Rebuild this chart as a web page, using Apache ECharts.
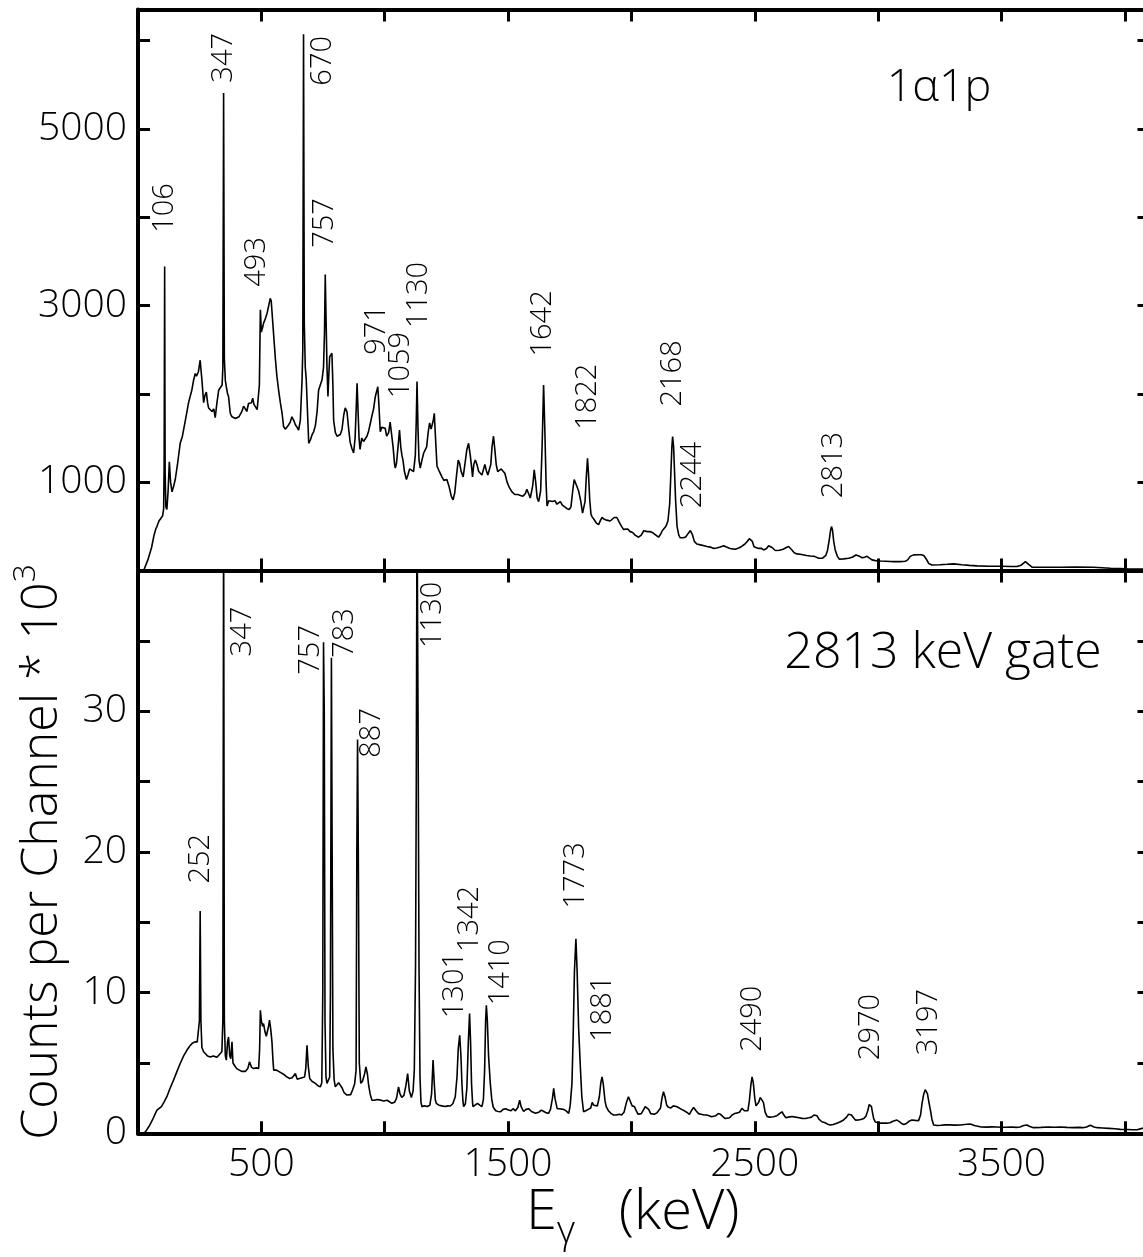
<!DOCTYPE html>
<html>
<head>
<meta charset="utf-8">
<title>Gamma-ray spectra: 1α1p and 2813 keV gate</title>
<script src="https://cdn.jsdelivr.net/npm/echarts@6/dist/echarts.min.js"></script>
<style>
  html, body { margin: 0; padding: 0; background: #fff; }
  #chart { width: 1143px; height: 1257px; }
</style>
</head>
<body>
<div id="chart"></div>
<script>
// ---- Spectrum data: [E_gamma (keV), counts per channel] ----
// Upper panel: 1α1p channel (counts)
const alphaPSpectrum = [
  [23,0],[40,120],[55,260],[65,400],[72,470],[77,500],[85,560],[92,580],[100,620],[104,700],
  [106,1200],[108,3440],[110,1100],[113,720],[117,690],[122,900],[127,1230],[132,1000],[138,890],[145,960],
  [151,1030],[160,1200],[171,1440],[180,1520],[192,1700],[205,1900],[218,2040],[225,2150],[232,2230],[237,2200],
  [245,2250],[252,2380],[256,2250],[259,2160],[266,1900],[271,1980],[277,2020],[282,1900],[286,1840],[293,1820],
  [300,1800],[307,1830],[313,1730],[320,1900],[327,2040],[333,2020],[341,2100],[344,2300],[347,5405],[350,2400],
  [354,2150],[358,2080],[363,2000],[367,1970],[374,1780],[381,1740],[388,1740],[395,1720],[402,1730],[409,1740],
  [415,1750],[421,1800],[428,1860],[435,1830],[441,1800],[448,1890],[455,1870],[460,1900],[465,1950],[470,1880],
  [476,1860],[483,1820],[489,1800],[492,2100],[496,2950],[500,2700],[505,2750],[509,2800],[516,2850],[523,2910],
  [530,3000],[536,3080],[540,3050],[543,3030],[549,2700],[557,2390],[563,2200],[570,2040],[577,1900],[584,1780],
  [590,1630],[597,1600],[604,1590],[611,1650],[617,1680],[624,1740],[631,1700],[638,1650],[645,1620],[651,1590],
  [658,1700],[665,2160],[668,2500],[671,6070],[674,2800],[678,2300],[682,2160],[687,1800],[692,1440],[699,1480],
  [706,1540],[712,1570],[719,1640],[726,1800],[732,2040],[739,2100],[746,2160],[752,2300],[756,2700],[759,3350],
  [762,2900],[766,2300],[770,1970],[774,2250],[777,2420],[782,2440],[786,2460],[790,2100],[793,1700],[800,1560],
  [807,1520],[814,1530],[820,1540],[827,1600],[834,1760],[840,1840],[847,1800],[854,1600],[860,1450],[867,1380],
  [874,1330],[880,1500],[884,1800],[888,2120],[892,1800],[896,1500],[900,1370],[907,1500],[914,1460],[921,1440],
  [928,1520],[935,1580],[942,1670],[949,1760],[955,1830],[962,1970],[967,1950],[972,2080],[976,1900],[982,1570],
  [988,1620],[995,1630],[1002,1610],[1008,1520],[1016,1560],[1022,1680],[1027,1660],[1034,1400],[1040,1200],[1043,1160],
  [1048,1220],[1054,1400],[1060,1590],[1065,1400],[1070,1300],[1074,1250],[1080,1120],[1088,1030],[1094,1080],[1101,1150],
  [1108,1130],[1117,1120],[1124,1300],[1128,1700],[1131,2140],[1135,1600],[1139,1250],[1144,1160],[1151,1250],[1158,1330],
  [1165,1350],[1170,1400],[1176,1560],[1182,1670],[1188,1600],[1192,1580],[1197,1700],[1201,1780],[1206,1500],[1212,1180],
  [1220,1130],[1232,1060],[1240,1020],[1247,1000],[1252,1030],[1260,960],[1270,840],[1277,800],[1284,880],[1292,1100],
  [1298,1250],[1303,1220],[1310,1120],[1318,1060],[1325,1200],[1333,1370],[1340,1440],[1347,1300],[1353,1150],[1356,1060],
  [1361,1200],[1367,1250],[1374,1200],[1381,1120],[1388,1100],[1394,1080],[1401,1150],[1406,1200],[1412,1130],[1418,1080],
  [1425,1060],[1430,1200],[1435,1400],[1441,1520],[1446,1380],[1452,1200],[1458,1120],[1465,1130],[1472,1150],[1480,1170],
  [1487,1100],[1496,1000],[1505,940],[1516,890],[1527,860],[1540,860],[1550,850],[1560,840],[1570,870],[1576,920],
  [1582,880],[1590,820],[1595,810],[1600,960],[1606,1140],[1612,1000],[1618,820],[1624,780],[1632,900],[1638,1400],
  [1644,2100],[1649,1600],[1654,1000],[1658,730],[1665,790],[1672,770],[1680,780],[1690,790],[1698,750],[1705,760],
  [1712,780],[1720,740],[1730,720],[1739,700],[1748,690],[1755,720],[1762,900],[1768,1030],[1772,1040],[1778,960],
  [1786,900],[1795,780],[1802,650],[1806,630],[1812,780],[1817,1050],[1822,1270],[1826,1100],[1831,800],[1836,640],
  [1840,610],[1848,580],[1857,540],[1867,520],[1875,570],[1881,600],[1890,580],[1900,570],[1908,550],[1914,560],
  [1922,580],[1930,600],[1936,611],[1941,600],[1950,550],[1960,500],[1968,465],[1975,460],[1985,470],[1995,440],
  [2005,430],[2015,400],[2022,380],[2029,377],[2040,400],[2050,450],[2056,460],[2065,440],[2075,440],[2085,430],
  [2095,410],[2102,390],[2110,377],[2118,410],[2125,450],[2132,470],[2140,500],[2148,560],[2155,750],[2160,1100],
  [2164,1400],[2167,1516],[2171,1400],[2175,1100],[2179,800],[2185,500],[2192,400],[2198,370],[2210,370],[2220,380],
  [2230,420],[2239,452],[2248,400],[2255,330],[2265,300],[2280,290],[2295,280],[2306,271],[2320,265],[2333,250],
  [2345,255],[2360,265],[2374,279],[2385,265],[2400,250],[2410,245],[2421,241],[2435,255],[2448,275],[2460,300],
  [2470,330],[2478,360],[2484,366],[2490,330],[2497,270],[2502,252],[2515,250],[2526,252],[2536,233],[2548,250],
  [2556,280],[2563,298],[2570,260],[2583,226],[2600,230],[2615,240],[2628,260],[2637,271],[2648,240],[2660,200],
  [2671,188],[2690,182],[2710,170],[2725,165],[2742,160],[2759,139],[2775,140],[2788,170],[2795,230],[2802,350],
  [2807,450],[2811,497],[2815,460],[2820,330],[2826,233],[2835,160],[2843,128],[2860,132],[2880,139],[2895,150],
  [2910,175],[2917,184],[2925,160],[2935,145],[2945,150],[2955,160],[2961,158],[2975,120],[2989,112],[3010,108],
  [3030,105],[3050,102],[3063,101],[3090,101],[3110,104],[3120,120],[3130,160],[3144,177],[3160,178],[3175,178],
  [3185,170],[3195,130],[3205,80],[3218,63],[3250,65],[3280,70],[3306,75],[3340,65],[3370,58],[3401,52],
  [3450,48],[3500,48],[3540,45],[3563,45],[3580,60],[3597,101],[3610,70],[3624,37],[3680,37],[3739,37],
  [3800,38],[3874,37],[3942,26],[4010,20],[4075,15],[4100,14]
];

// Lower panel: coincidences gated on the 2813 keV line (counts / 10^3)
const gateSpectrum = [
  [20,0],[30,0.1],[45,0.5],[60,1.0],[70,1.4],[77,1.65],[85,1.55],[95,1.9],[105,2.2],[117,2.6],
  [130,3.2],[144,3.78],[158,4.4],[171,4.96],[185,5.5],[198,5.9],[210,6.2],[219,6.38],[230,6.5],[240,6.5],
  [246,6.6],[249,8],[252,15.8],[255,8],[259,6.1],[266,5.8],[272,5.67],[282,5.5],[293,5.43],[305,5.5],
  [320,5.4],[330,5.6],[340,5.8],[344,8],[347,45],[350,8],[354,5.5],[358,5.2],[363,6.5],[367,6.85],
  [372,5.5],[376,5.3],[381,6.5],[385,5.0],[392,4.8],[400,4.6],[408,4.49],[420,4.4],[435,4.4],[445,4.6],
  [452,5.08],[460,4.7],[469,4.6],[480,4.65],[489,4.61],[493,6],[496,8.74],[500,8.0],[505,7.6],[509,7.8],
  [515,7.2],[520,6.9],[523,6.85],[528,7.5],[533,8.04],[538,7.4],[543,6.5],[547,5.2],[550,4.49],[560,4.5],
  [570,4.4],[577,4.4],[590,4.2],[604,4.0],[615,3.9],[625,3.95],[632,4.0],[638,4.25],[645,3.85],[655,3.9],
  [665,3.95],[675,4.0],[680,4.6],[685,6.26],[690,4.8],[696,3.9],[705,3.7],[712,3.6],[719,3.55],[728,3.4],
  [739,3.3],[745,3.6],[749,10],[752,34.9],[755,30],[758,8],[762,4],[766,3.55],[772,3.55],[777,4.0],
  [780,10],[784,33.8],[787,20],[790,6],[795,3.8],[800,3.3],[807,3.4],[813,3.6],[820,3.55],[828,3.2],
  [835,2.9],[847,2.72],[855,2.7],[862,2.75],[870,3.1],[878,3.5],[884,4.5],[887,20],[890,28.0],[893,20],
  [897,5],[903,3.55],[910,3.7],[918,4.2],[924,4.72],[930,4.2],[935,3.4],[941,2.8],[948,2.36],[958,2.35],
  [970,2.4],[982,2.36],[995,2.3],[1010,2.35],[1029,2.13],[1040,2.2],[1048,2.5],[1056,3.3],[1062,2.8],[1069,2.55],
  [1078,2.7],[1086,3.4],[1093,4.25],[1100,3.0],[1108,2.55],[1115,3.0],[1120,4.5],[1125,12],[1128,25],[1131,45],
  [1135,30],[1139,12],[1143,4],[1147,2.2],[1151,1.89],[1160,1.95],[1172,1.9],[1183,2.0],[1190,2.8],[1196,5.2],
  [1201,3.5],[1205,2.4],[1209,2.13],[1220,2.0],[1232,1.95],[1245,1.9],[1256,1.95],[1266,1.94],[1276,2.1],[1286,2.6],
  [1293,4.0],[1298,6.0],[1304,6.97],[1309,5.5],[1313,3.5],[1317,2.3],[1320,1.89],[1327,2.1],[1333,3.2],[1339,6.5],
  [1344,8.51],[1348,6.5],[1352,3.5],[1356,2.2],[1358,1.89],[1366,2.0],[1376,2.13],[1385,2.0],[1394,1.89],[1400,2.4],
  [1405,4.5],[1409,8],[1412,9.1],[1416,8.0],[1421,5.5],[1428,3.55],[1434,2.4],[1440,1.85],[1450,1.6],[1460,1.55],
  [1469,1.53],[1480,1.7],[1490,1.75],[1502,1.65],[1512,1.6],[1520,1.75],[1530,1.6],[1540,1.85],[1547,2.36],[1553,1.9],
  [1563,1.55],[1573,1.7],[1583,1.75],[1595,1.55],[1603,1.6],[1611,1.42],[1625,1.5],[1635,1.65],[1645,1.55],[1655,1.45],
  [1664,1.42],[1672,1.7],[1680,2.5],[1685,3.19],[1690,2.5],[1699,1.75],[1708,1.75],[1716,1.85],[1725,1.7],[1735,1.6],
  [1746,1.42],[1752,2.0],[1759,3.55],[1764,7],[1769,11.5],[1775,13.83],[1780,11.5],[1786,7.5],[1793,4.72],[1799,2.6],
  [1806,1.53],[1815,1.6],[1825,1.7],[1835,1.8],[1841,2.2],[1847,2.0],[1855,2.1],[1862,1.95],[1870,2.6],[1876,3.6],
  [1881,4.01],[1886,3.5],[1893,2.3],[1898,1.9],[1907,1.6],[1918,1.4],[1928,1.3],[1940,1.3],[1950,1.35],[1960,1.3],
  [1970,1.5],[1980,2.2],[1988,2.6],[1995,2.3],[2003,1.95],[2012,1.9],[2020,1.6],[2027,1.35],[2033,1.3],[2040,1.4],
  [2050,1.7],[2056,1.9],[2063,1.89],[2070,1.7],[2078,1.4],[2083,1.3],[2093,1.35],[2103,1.45],[2110,1.5],[2118,1.8],
  [2124,2.5],[2130,2.95],[2136,2.6],[2143,2.0],[2150,1.85],[2160,1.8],[2170,1.95],[2178,1.9],[2185,1.89],[2193,1.75],
  [2203,1.7],[2214,1.6],[2224,1.5],[2235,1.35],[2243,1.6],[2252,1.84],[2262,1.6],[2272,1.4],[2283,1.35],[2295,1.3],
  [2305,1.3],[2315,1.25],[2325,1.18],[2333,1.18],[2342,1.25],[2352,1.4],[2361,1.35],[2370,1.2],[2380,1.05],[2388,0.99],
  [2398,1.1],[2408,1.3],[2418,1.4],[2428,1.45],[2438,1.5],[2448,1.77],[2458,1.6],[2465,1.5],[2472,1.6],[2478,2.3],
  [2484,3.4],[2489,4.01],[2494,3.6],[2500,2.5],[2505,1.95],[2510,1.85],[2516,2.2],[2522,2.55],[2529,2.6],[2535,2.2],
  [2542,1.5],[2550,1.2],[2560,1.15],[2576,1.18],[2590,1.25],[2600,1.4],[2610,1.53],[2618,1.3],[2626,1.1],[2637,1.15],
  [2651,1.2],[2665,1.15],[2680,1.1],[2692,1.06],[2705,1.05],[2719,1.1],[2730,1.15],[2740,1.3],[2745,1.42],[2752,1.25],
  [2760,1.0],[2772,0.82],[2785,0.75],[2795,0.65],[2806,0.59],[2818,0.62],[2830,0.7],[2847,0.82],[2860,0.95],[2872,1.15],
  [2880,1.35],[2885,1.42],[2892,1.3],[2900,1.1],[2908,0.94],[2920,0.95],[2930,0.98],[2942,1.05],[2950,1.2],[2958,1.6],
  [2964,2.05],[2968,2.13],[2973,1.9],[2978,1.4],[2982,1.05],[2989,0.8],[2995,0.71],[3010,0.72],[3025,0.72],[3036,0.72],
  [3048,0.75],[3060,0.85],[3068,0.92],[3076,0.94],[3085,0.85],[3095,0.7],[3104,0.62],[3115,0.7],[3125,0.85],[3137,0.94],
  [3150,0.92],[3164,0.9],[3172,1.3],[3178,2.13],[3185,2.8],[3191,3.1],[3195,3.14],[3200,2.8],[3206,2.2],[3212,1.65],
  [3218,1.0],[3225,0.59],[3240,0.55],[3255,0.57],[3270,0.6],[3290,0.6],[3310,0.58],[3333,0.59],[3350,0.62],[3374,0.66],
  [3390,0.55],[3418,0.45],[3440,0.44],[3460,0.46],[3480,0.45],[3500,0.43],[3520,0.43],[3540,0.45],[3560,0.42],[3575,0.45],
  [3590,0.55],[3603,0.59],[3615,0.48],[3630,0.4],[3660,0.42],[3690,0.45],[3715,0.43],[3739,0.45],[3765,0.42],[3790,0.4],
  [3810,0.42],[3830,0.4],[3845,0.45],[3860,0.57],[3875,0.45],[3888,0.4],[3910,0.38],[3935,0.35],[3960,0.32],[3982,0.28],
  [4010,0.27],[4030,0.25],[4050,0.25],[4070,0.35],[4085,0.45],[4100,0.5]
];

// ---- Peak energy labels and where each label starts (energy, counts) ----
const alphaPLabels = ['106','347','670','757','493','971','1059','1130','1642','1822','2168','2244','2813'];
const alphaPLabelAnchors = [
  [106.6,3823],[348,5522],[750,5488],[756,3653],[479.5,3212],[968,2442],[1065,1951],
  [1136,2744],[1641,2422],[1823,1592],[2168,1856],[2249,706],[2820,819]
];
const gateLabels = ['252','347','757','783','887','1130','1301','1342','1410','1773','1881','2490','2970','3197'];
const gateLabelAnchors = [
  [252.5,17.75],[425,33.9],[702,32.6],[836,33.8],[946,26.7],[1195,34.5],[1282,8.18],
  [1343,12.88],[1472,9.1],[1776,15.98],[1884,6.5],[2492,5.79],[2972,5.2],[3205,5.55]
];

// ---- Axis ranges ----
const energyMax = 4100;
const alphaPMax = 6350;
const gateMax = 40;

const FONT = '"Open Sans", "Lato", "DejaVu Sans", sans-serif';
const INK = '#000';

const frameLine = { show: true, onZero: false, lineStyle: { color: INK, width: 4 } };
const innerTick = { show: true, inside: true, length: 12, lineStyle: { color: INK, width: 3 } };

function xAxisDef(gridIndex, position, labelFormatter) {
  return {
    type: 'value', gridIndex, position, min: 0, max: energyMax, interval: 500,
    axisLine: frameLine, axisTick: innerTick, splitLine: { show: false },
    axisLabel: labelFormatter ? {
      show: true, margin: 12, color: INK, fontSize: 39, fontFamily: FONT, fontWeight: 300,
      formatter: labelFormatter
    } : { show: false }
  };
}
function yAxisDef(gridIndex, position, max, interval, labelFormatter, extra) {
  return Object.assign({
    type: 'value', gridIndex, position, min: 0, max, interval,
    axisLine: frameLine, axisTick: innerTick, splitLine: { show: false },
    axisLabel: labelFormatter ? {
      show: true, margin: 11, color: INK, fontSize: 39, fontFamily: FONT, fontWeight: 300,
      formatter: labelFormatter
    } : { show: false }
  }, extra || {});
}

function labelSeries(xAxisIndex, yAxisIndex, texts, anchors) {
  return {
    type: 'custom', xAxisIndex, yAxisIndex, silent: true, clip: false,
    data: anchors,
    renderItem: (params, api) => {
      const p = api.coord([api.value(0), api.value(1)]);
      return {
        type: 'text', x: p[0], y: p[1], rotation: Math.PI / 2,
        style: {
          text: texts[params.dataIndex], fill: INK,
          font: '300 29px ' + FONT,
          textAlign: 'left', align: 'left',
          textVerticalAlign: 'middle', verticalAlign: 'middle'
        }
      };
    }
  };
}

const chart = echarts.init(document.getElementById('chart'), null, { renderer: 'canvas' });

chart.setOption({
  animation: false,
  backgroundColor: '#fff',
  grid: [
    { left: 138, top: 9.5, width: 1011.5, height: 561, outerBoundsMode: 'none', containLabel: false },
    { left: 138, top: 570.6, width: 1011.5, height: 562.7, outerBoundsMode: 'none', containLabel: false }
  ],
  xAxis: [
    xAxisDef(0, 'bottom', null),
    xAxisDef(0, 'top', null),
    Object.assign(xAxisDef(1, 'bottom', v => (v % 1000 === 500 ? String(v) : '')), {
      name: '{n|E}{sub|γ}{n|   (keV)}',
      nameLocation: 'middle', nameGap: 44,
      nameTextStyle: {
        color: INK, fontFamily: FONT, fontWeight: 300, padding: [0, 22, 0, 0],
        rich: {
          n: { fontSize: 56, fontFamily: FONT, fontWeight: 300, color: INK, verticalAlign: 'top', lineHeight: 66 },
          sub: { fontSize: 38, fontFamily: FONT, fontWeight: 300, color: INK, verticalAlign: 'bottom', lineHeight: 66 }
        }
      }
    }),
    xAxisDef(1, 'top', null)
  ],
  yAxis: [
    yAxisDef(0, 'left', alphaPMax, 1000, v => (v % 2000 === 1000 ? String(v) : '')),
    yAxisDef(0, 'right', alphaPMax, 1000, null),
    yAxisDef(1, 'left', gateMax, 5, v => (v % 10 === 0 && v < gateMax ? String(v) : ''), {
      name: '{n|Counts per Channel * 10}{sup|3}',
      nameLocation: 'middle', nameRotate: 90, nameGap: 70,
      nameTextStyle: {
        color: INK, fontFamily: FONT, fontWeight: 300,
        rich: {
          n: { fontSize: 50, fontFamily: FONT, fontWeight: 300, color: INK, verticalAlign: 'bottom', lineHeight: 58 },
          sup: { fontSize: 32, fontFamily: FONT, fontWeight: 300, color: INK, verticalAlign: 'top', lineHeight: 58 }
        }
      }
    }),
    yAxisDef(1, 'right', gateMax, 5, null)
  ],
  graphic: [
    {
      type: 'text', x: 939, y: 88, silent: true,
      style: { text: '1α1p', fill: INK, font: '300 45px ' + FONT, textAlign: 'center', align: 'center', textVerticalAlign: 'middle', verticalAlign: 'middle' }
    },
    {
      type: 'text', x: 943, y: 654, silent: true,
      style: { text: '2813 keV gate', fill: INK, font: '300 50px ' + FONT, textAlign: 'center', align: 'center', textVerticalAlign: 'middle', verticalAlign: 'middle' }
    }
  ],
  series: [
    {
      name: '1α1p', type: 'line', xAxisIndex: 0, yAxisIndex: 0,
      data: alphaPSpectrum, showSymbol: false, clip: true, silent: true,
      lineStyle: { color: INK, width: 1.6 }
    },
    {
      name: '2813 keV gate', type: 'line', xAxisIndex: 2, yAxisIndex: 2,
      data: gateSpectrum, showSymbol: false, clip: true, silent: true,
      lineStyle: { color: INK, width: 1.6 }
    },
    labelSeries(0, 0, alphaPLabels, alphaPLabelAnchors),
    labelSeries(2, 2, gateLabels, gateLabelAnchors)
  ]
});
</script>
</body>
</html>
